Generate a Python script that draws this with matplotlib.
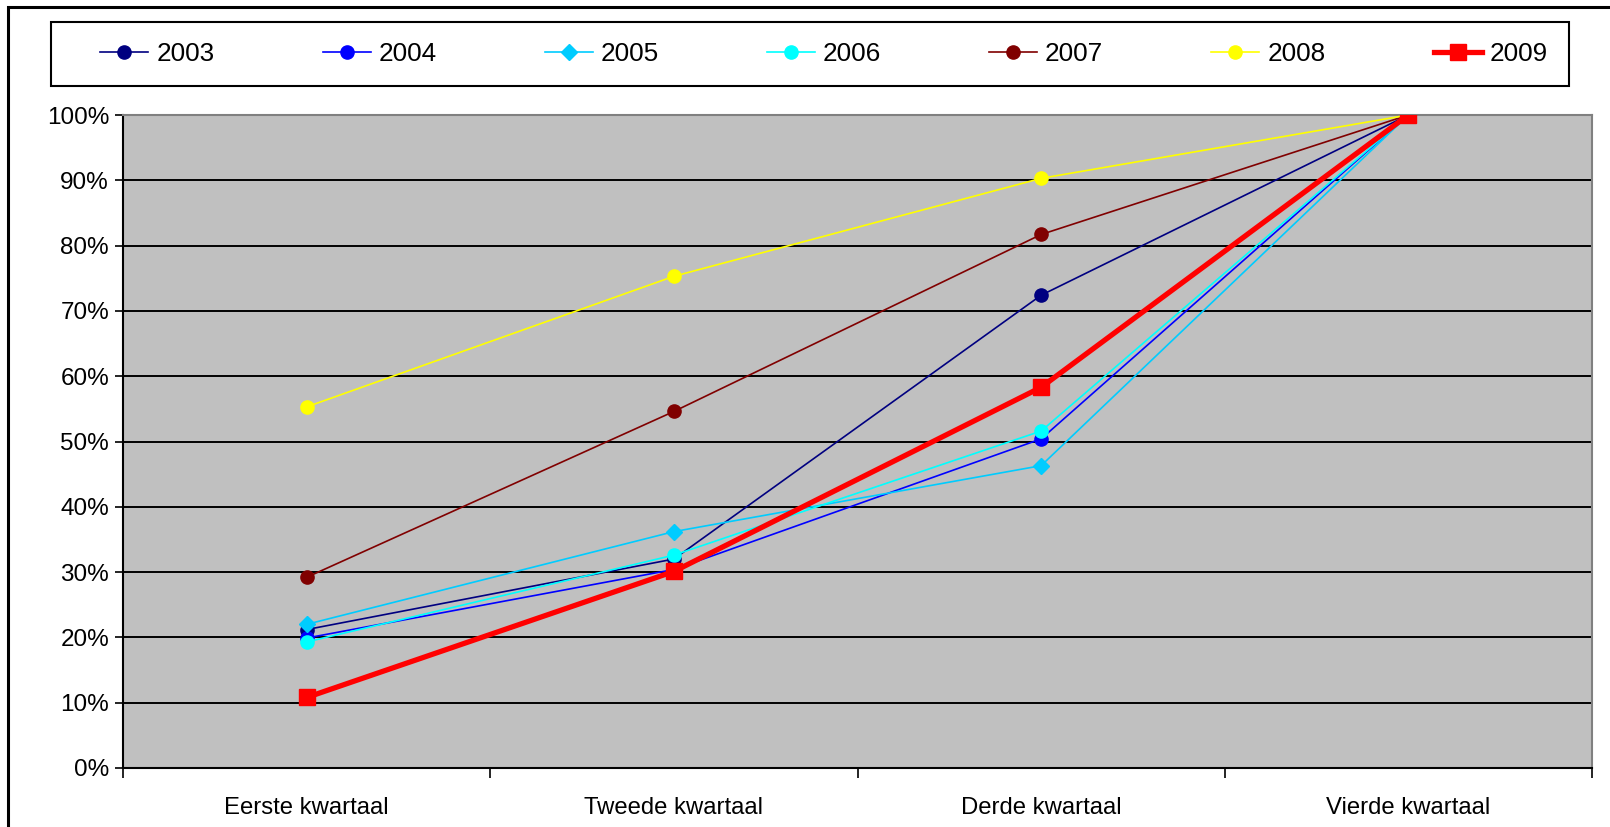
import matplotlib
matplotlib.use("Agg")
import matplotlib.pyplot as plt
from matplotlib.patches import Rectangle
from matplotlib.ticker import FixedLocator, NullFormatter

plt.rcParams['font.family'] = ['Liberation Sans', 'DejaVu Sans']

categories = ["Eerste kwartaal", "Tweede kwartaal", "Derde kwartaal", "Vierde kwartaal"]
years = ["2003", "2004", "2005", "2006", "2007", "2008", "2009"]
s2003 = [21.2, 32.0, 72.4, 100]
s2004 = [19.9, 30.4, 50.4, 100]
s2005 = [22.0, 36.2, 46.3, 100]
s2006 = [19.3, 32.6, 51.6, 100]
s2007 = [29.2, 54.6, 81.7, 100]
s2008 = [55.3, 75.3, 90.3, 100]
s2009 = [10.8, 30.1, 58.3, 100]
series = [s2003, s2004, s2005, s2006, s2007, s2008, s2009]
yticks = [0, 10, 20, 30, 40, 50, 60, 70, 80, 90, 100]

colors = ["#000080", "#0000FF", "#00CCFF", "#00FFFF", "#800000", "#FFFF00", "#FF0000"]
markers = ["o", "o", "D", "o", "o", "o", "s"]
msizes = [9.5, 9.5, 8.5, 9.5, 9.5, 9.5, 11]
lwidths = [1.2, 1.2, 1.2, 1.2, 1.2, 1.2, 3.8]

W, H = 1610, 827
fig = plt.figure(figsize=(16.1, 8.27), dpi=100)
fig.patch.set_facecolor("white")
# outer chart border
fig.add_artist(Rectangle((8/W, -0.05), 1.1, 1 - 7/H + 0.05, transform=fig.transFigure,
                         fill=False, edgecolor="black", linewidth=2.2))
# legend box
lx0, lx1, ly0, ly1 = 51, 1569, 22, 86
fig.add_artist(Rectangle((lx0/W, 1 - ly1/H), (lx1 - lx0)/W, (ly1 - ly0)/H,
                         transform=fig.transFigure, fill=True, facecolor="white",
                         edgecolor="black", linewidth=1.5))

ax = fig.add_axes([123/W, 1 - 768/H, (1592 - 123)/W, (768 - 115)/H])
ax.set_facecolor("#C0C0C0")

x = list(range(len(categories)))
handles = []
for name, vals, c, m, ms, lw in zip(years, series, colors, markers, msizes, lwidths):
    h, = ax.plot(x, vals, color=c, marker=m, markersize=ms, linewidth=lw,
                 markeredgecolor=c, markerfacecolor=c, label=name, zorder=3)
    handles.append(h)

ax.set_xlim(-0.5, len(categories) - 0.5)
ax.set_ylim(0, 100)
ax.set_yticks(yticks)
ax.set_yticklabels([f"{v}%" for v in yticks], fontsize=17.5)
ax.yaxis.grid(True, color="black", linewidth=1.4)
ax.set_axisbelow(True)

ax.set_xticks(x)
ax.set_xticklabels(categories, fontsize=17.2)
ax.tick_params(axis="x", which="major", length=0, pad=21)
ax.xaxis.set_minor_locator(FixedLocator([i - 0.5 for i in range(len(categories) + 1)]))
ax.xaxis.set_minor_formatter(NullFormatter())
ax.tick_params(axis="x", which="minor", length=7, width=1.2, color="black", direction="out")
ax.tick_params(axis="y", length=6, width=1.2, direction="out", pad=4)

for s in ["left", "bottom"]:
    ax.spines[s].set_color("black")
    ax.spines[s].set_linewidth(1.5)
for s in ["top", "right"]:
    ax.spines[s].set_color("#808080")
    ax.spines[s].set_linewidth(1.5)

fs = 18.8
em = fs * 100 / 72
leg = fig.legend(handles=handles, labels=years, loc="center",
                 bbox_to_anchor=((lx0 + lx1) / 2 / W + 14/W, 1 - (ly0 + ly1) / 2 / H),
                 ncol=7, fontsize=fs, frameon=False,
                 handlelength=48/em, handletextpad=8/em, columnspacing=108/em,
                 borderaxespad=0, borderpad=0)

fig.savefig("out.png", dpi=100)
